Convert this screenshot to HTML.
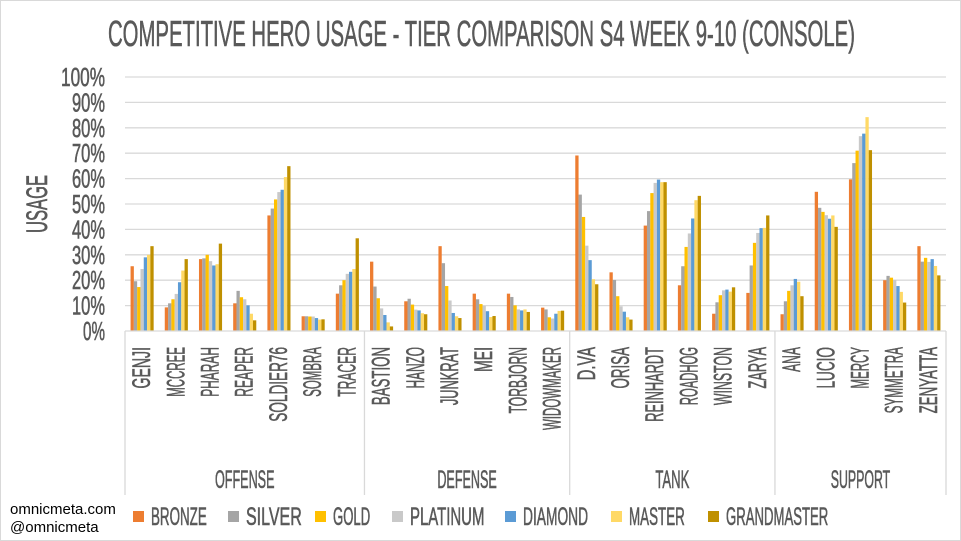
<!DOCTYPE html>
<html><head><meta charset="utf-8"><style>
html,body{margin:0;padding:0;background:#fff;}
svg{display:block;font-family:"Liberation Sans",sans-serif;}
.t{stroke:#595959;stroke-width:0.6;}
</style></head><body>
<svg id="chart" width="961" height="541" viewBox="0 0 961 541">
<rect x="0.5" y="0.5" width="960" height="540" fill="#fff" stroke="#d9d9d9"/>
<text class="t" x="108" y="46" font-size="36" fill="#595959" textLength="747" lengthAdjust="spacingAndGlyphs">COMPETITIVE HERO USAGE - TIER COMPARISON S4 WEEK 9-10 (CONSOLE)</text>
<text class="t" transform="translate(47,233) rotate(-90)" font-size="30" fill="#595959" textLength="58" lengthAdjust="spacingAndGlyphs">USAGE</text>
<g id="grid"></g><g id="bars"></g><g id="xaxis"></g><g id="legend"></g>
<text x="10" y="514" font-size="15" fill="#000">omnicmeta.com</text>
<text x="10" y="532" font-size="15" fill="#000">@omnicmeta</text>
</svg>
<script>
const heroes=["GENJI","MCCREE","PHARAH","REAPER","SOLDIER76","SOMBRA","TRACER","BASTION","HANZO","JUNKRAT","MEI","TORBJORN","WIDOWMAKER","D.VA","ORISA","REINHARDT","ROADHOG","WINSTON","ZARYA","ANA","LUCIO","MERCY","SYMMETRA","ZENYATTA"];
const groups=["OFFENSE","DEFENSE","TANK","SUPPORT"];
const groupSizes=[7,6,6,5];
const tiers=["BRONZE","SILVER","GOLD","PLATINUM","DIAMOND","MASTER","GRANDMASTER"];
const tierColors=["#ED7D31","#A5A5A5","#FFC000","#C9C9C9","#5B9BD5","#FFD966","#BF9000"];
const yTicks=[0,10,20,30,40,50,60,70,80,90,100];
const bronze=[25.5,9.3,28.3,10.9,45.5,5.8,14.7,27.3,11.7,33.4,14.7,14.7,9.2,69.1,23.1,41.5,18,6.8,15,6.6,54.8,59.7,20,33.4];
const silver=[19.6,10.9,28.6,15.8,48.2,5.8,18,17.5,12.7,26.7,12.5,13.4,8.5,53.7,20.1,47.2,25.5,11.3,25.8,11.7,48.5,66.1,21.7,27.3];
const gold=[17.3,12.5,30,13.3,51.8,5.7,20,12.9,10.4,17.7,10.6,10.1,5.4,44.9,13.7,54.3,33.1,14.1,34.7,15.8,46.9,71,21,28.8];
const platinum=[24.4,14.6,27.5,12.5,54.7,5.7,22.5,8.9,8.4,12,9.9,8.5,4.9,33.6,9.7,58.3,38.4,16,38.6,18,45.6,76.7,20.1,27.2];
const diamond=[29,19.2,25.8,10.1,55.6,5.1,23.3,6.3,8.1,7.1,7.8,8.1,6.8,27.9,7.6,59.6,44.3,16.3,40.5,20.5,44.2,77.7,17.7,28.3];
const master=[30,23.8,26.3,6.8,60.6,4.5,24.4,3.4,7,5.8,5.5,8.5,7.9,20.4,5.4,58.6,51.5,15.5,40.6,19.4,45.5,84.2,15.4,25.6];
const grandmaster=[33.4,28.3,34.4,4.2,64.9,4.6,36.5,1.8,6.6,5.1,5.9,7.5,8,18.4,4.5,58.6,53.2,17.2,45.5,13.7,41,71.2,11.2,21.9];
const series=[bronze,silver,gold,platinum,diamond,master,grandmaster];

const NS="http://www.w3.org/2000/svg";
const X0=125,X1=946,Y0=331,Y100=77;
const band=(X1-X0)/heroes.length;
const y=v=>Y0-(v/100)*(Y0-Y100);
const xc=i=>X0+band*i;
function mk(tag,attrs,parent){const e=document.createElementNS(NS,tag);for(const k in attrs)e.setAttribute(k,attrs[k]);parent.appendChild(e);return e;}
const grid=document.getElementById('grid');
yTicks.forEach(t=>{
 if(t>0){const l=mk('line',{x1:X0,x2:X1,y1:y(t),y2:y(t),stroke:'#d9d9d9','stroke-width':1.3},grid);
 
 }
 const tx=mk('text',{class:'t',x:105,y:y(t)+9,'font-size':26,fill:'#595959','text-anchor':'end',textLength:(String(t).length+1)*11,lengthAdjust:'spacingAndGlyphs'},grid);
 tx.textContent=t+'%';
 
 
});
const bars=document.getElementById('bars');
const bw=band*0.675/7;
series.forEach((s,k)=>{
 s.forEach((v,i)=>{
  const bx=xc(i)+band*0.1625+k*bw;
  const r=mk('rect',{x:bx,y:y(v),width:bw,height:Y0-y(v),fill:tierColors[k]},bars);
  
  
 });
});
const xa=document.getElementById('xaxis');
const base=mk('line',{x1:X0,x2:X1,y1:Y0,y2:Y0,stroke:'#d9d9d9','stroke-width':1.3},xa);


heroes.forEach((h,i)=>{
 const cx=xc(i)+band/2;
 const len=h.length*8.3;
 const t=mk('text',{class:'t',transform:`translate(${cx+8},347) rotate(-90)`,'font-size':25,fill:'#595959','text-anchor':'end',textLength:len,lengthAdjust:'spacingAndGlyphs'},xa);
 t.textContent=h;
 
 
});
let idx=0;
const sepXs=[X0];
groups.forEach((g,gi)=>{
 const start=idx;idx+=groupSizes[gi];
 sepXs.push(xc(idx));
 const cx=(xc(start)+xc(idx))/2;
 const t=mk('text',{class:'t',x:cx,y:488,'font-size':25,fill:'#595959','text-anchor':'middle',textLength:g.length*8.5,lengthAdjust:'spacingAndGlyphs'},xa);
 t.textContent=g;
 
 
});
sepXs.forEach((sx,j)=>{
 const l=mk('line',{x1:sx,x2:sx,y1:Y0,y2:495,stroke:'#d9d9d9','stroke-width':1.3},xa);
 
 
});
const lg=document.getElementById('legend');
const legX=[133,228,315,392,505,611,708];
tiers.forEach((t,k)=>{
 const g=mk('g',{},lg);
 
 
 mk('rect',{x:legX[k],y:511,width:11,height:11,fill:tierColors[k]},g);
 const tx=mk('text',{class:'t',x:legX[k]+18,y:525,'font-size':25,fill:'#595959',textLength:t.length*9.3,lengthAdjust:'spacingAndGlyphs'},g);
 tx.textContent=t;
});
</script>
</body></html>
